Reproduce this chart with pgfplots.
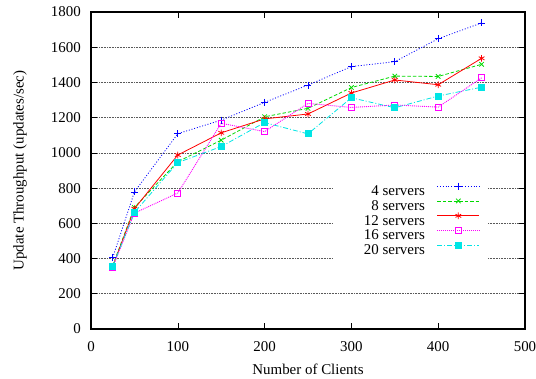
\documentclass[border=0pt]{standalone}
\usepackage{fontspec}
\setmainfont{Liberation Serif}
\usepackage{pgfplots}
\pgfplotsset{compat=1.18}
\definecolor{gblue}{rgb}{0,0,1}
\definecolor{ggreen}{rgb}{0,0.85,0}
\definecolor{gred}{rgb}{1,0,0}
\definecolor{gmagenta}{rgb}{1,0,1}
\definecolor{gcyan}{rgb}{0,0.9,0.9}
\begin{document}
\fontsize{15}{17}\selectfont
\begin{tikzpicture}
\useasboundingbox (-91bp,-50bp) rectangle (445bp,329bp);
\begin{axis}[
  at={(0,0)}, anchor=south west,
  scale only axis,
  width=434bp, height=317bp,
  xmin=0, xmax=500, ymin=0, ymax=1800,
  xtick={0,100,...,500},
  ytick={0,200,...,1800},
  tick align=inside,
  major tick length=6bp,
  every tick/.style={black, line width=0.6pt},
  axis line style={line width=1.1pt},
  ymajorgrids,
  major grid style={black!65, dash pattern=on 0.6pt off 1pt, line width=0.6pt},
  /pgf/number format/assume math mode=true,
  /pgf/number format/1000 sep={},
  xticklabel style={anchor=base, yshift=-22bp},
  yticklabel style={inner xsep=0pt, xshift=-10bp},
  xlabel={Number of Clients},
  ylabel={Update Throughput (updates/sec)},
  xlabel style={at={(axis description cs:0.5,-0.142)}, anchor=base},
  ylabel style={at={(axis description cs:-0.1636,0.5)}, anchor=center},
  legend style={at={(0.9147,0.47)}, anchor=north east, draw=none, fill=white,
    font=\fontsize{15}{17}\selectfont,
    cells={inner sep=0pt, text height=10.5bp, text depth=0bp},
    row sep=-2bp, column sep=10bp, inner xsep=8bp, inner ysep=2.5bp},
  legend cell align=right,
  legend plot pos=right,
  legend image code/.code={\draw[mark repeat=2,mark phase=2] plot coordinates {(0bp,5.2bp)(21bp,5.2bp)(42bp,5.2bp)};},
  every axis plot/.append style={line width=0.8pt},
]
\addplot[gblue, dash pattern=on 1pt off 1.8pt, mark=+, mark size=3.5bp, mark options={solid}] coordinates {
(25,405)(50,778)(100,1109)(150,1186)(200,1287)(250,1385)(300,1490)(350,1518)(400,1648)(450,1738)};
\addlegendentry{4 servers}
\addplot[ggreen, dash pattern=on 3.5pt off 2pt, mark=x, mark size=3.2bp, mark options={solid}] coordinates {
(25,360)(50,690)(100,950)(150,1072)(200,1205)(250,1253)(300,1371)(350,1436)(400,1434)(450,1503)};
\addlegendentry{8 servers}
\addplot[gred, solid, mark=asterisk, mark size=3.3bp] coordinates {
(25,355)(50,683)(100,988)(150,1114)(200,1193)(250,1221)(300,1340)(350,1414)(400,1387)(450,1537)};
\addlegendentry{12 servers}
\addplot[gmagenta, line width=0.9pt, dash pattern=on 1pt off 1pt, mark=square, mark size=3bp, mark options={solid}] coordinates {
(25,350)(50,658)(100,772)(150,1168)(200,1121)(250,1281)(300,1258)(350,1272)(400,1260)(450,1426)};
\addlegendentry{16 servers}
\addplot[gcyan, dash pattern=on 5pt off 2pt on 1pt off 2pt, mark=square*, mark size=3bp, mark options={solid}] coordinates {
(25,357)(50,662)(100,945)(150,1036)(200,1172)(250,1108)(300,1313)(350,1256)(400,1323)(450,1373)};
\addlegendentry{\hspace*{21bp}20 servers}
\end{axis}
\end{tikzpicture}
\end{document}
